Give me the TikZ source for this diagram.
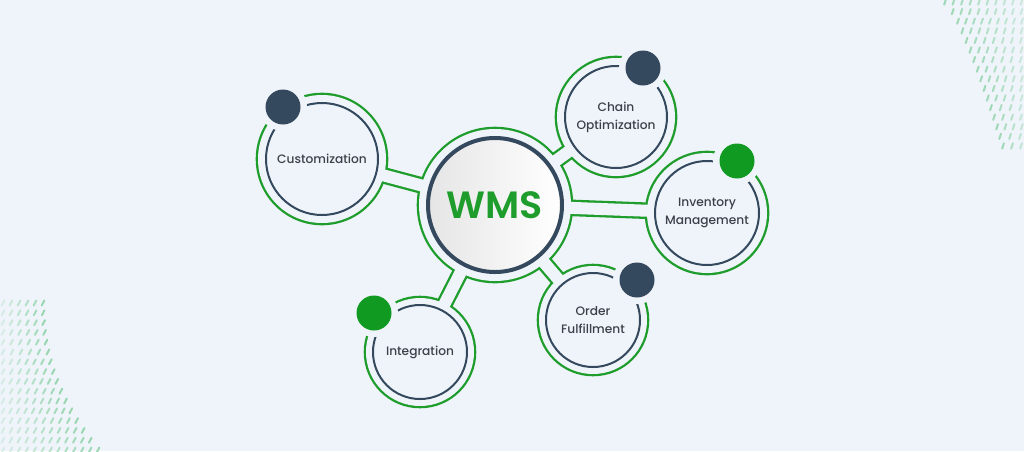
\documentclass[tikz,border=0pt]{standalone}
\usepackage{fontspec}
\setmainfont{Poppins}[UprightFont=* Medium, BoldFont=* SemiBold]
\usetikzlibrary{positioning}

\definecolor{pagebg}{RGB}{239,244,250}
\definecolor{navy}{RGB}{52,73,94}
\definecolor{ringgreen}{RGB}{31,157,44}
\definecolor{dotgreen}{RGB}{16,154,34}
\definecolor{textgray}{RGB}{60,64,72}
\definecolor{wavegreen}{RGB}{140,210,165}

\pgfdeclarelayer{paper}
\pgfdeclarelayer{ringback}
\pgfdeclarelayer{ringmask}
\pgfsetlayers{paper,ringback,ringmask,main}

\tikzset{
  topic/.style={circle, draw=navy, line width=2pt, fill=pagebg, text=textgray,
    align=center, font=\fontsize{12.2}{18}\selectfont, inner sep=0pt},
  hub/.style={circle, draw=navy, line width=4pt, inner sep=0pt, minimum size=134pt,
    left color=gray!20, right color=white, text=ringgreen,
    font=\bfseries\fontsize{38}{38}\selectfont},
  tubeout/.style={ringgreen, line width=16.6pt},
  tubein/.style={pagebg, line width=12pt},
  halo/.style={circle, fill=pagebg, inner sep=0pt, minimum size=48pt},
  knob/.style={circle, inner sep=0pt, minimum size=35pt},
  wavedash/.style={wavegreen, line width=2pt, line cap=round},
}

\begin{document}
\begin{tikzpicture}[x=1pt, y=-1pt]
\useasboundingbox (0,0) rectangle (1024,451);

% page and dotted waves in the corners
\begin{pgfonlayer}{paper}
\fill[pagebg] (0,0) rectangle (1024,451);
\clip (0,0) rectangle (1024,451);
\foreach \j in {0,...,15}{
  \pgfmathsetmacro\yy{303+9.8*\j}
  \pgfmathsetmacro\bb{40+55*(\j/15)^2.2}
  \pgfmathtruncatemacro\nn{\bb/7.5}
  \foreach \k in {0,...,\nn}{
    \pgfmathsetmacro\xx{3+\k*\bb/\nn}
    \pgfmathsetmacro\op{0.25+0.6*(\k/\nn)}
    \draw[wavedash, opacity=\op] (\xx,\yy) ++(-62:-2.8) -- ++(-62:5.6);
  }
}
\foreach \j in {0,...,15}{
  \pgfmathsetmacro\yy{2+9.6*\j}
  \pgfmathsetmacro\ll{945+58*(\j/15)^0.75}
  \pgfmathtruncatemacro\nn{(1030-\ll)/8}
  \foreach \k in {0,...,\nn}{
    \pgfmathsetmacro\xx{\ll+\k*(1030-\ll)/\nn}
    \pgfmathsetmacro\op{0.8-0.5*(\k/\nn)}
    \draw[wavedash, opacity=\op] (\xx,\yy) ++(-72:-2.8) -- ++(-72:5.6);
  }
}
\end{pgfonlayer}

% hub and topics
\node[hub] (wms) at (495,205) {WMS};
\node[topic, minimum size=112pt] (cust) at (322,159) {Customization};
\node[topic, minimum size=102pt] (chain) at (616,117) {Chain\\Optimization};
\node[topic, minimum size=104pt] (inv) at (707,213) {Inventory\\Management};
\node[topic, minimum size=94pt] (order) at (593,320) {Order\\Fulfillment};
\node[topic, minimum size=94pt] (integ) at (420,352) {Integration};

% green outline: rings and tubes
\begin{pgfonlayer}{ringback}
\fill[ringgreen] (wms.center) circle (78.3);
\fill[ringgreen] (cust.center) circle (66.3);
\fill[ringgreen] (chain.center) circle (61.3);
\fill[ringgreen] (inv.center) circle (62.3);
\fill[ringgreen] (order.center) circle (56.3);
\fill[ringgreen] (integ.center) circle (56.3);
\draw[tubeout] (wms) -- (cust);
\draw[tubeout] (wms) -- (chain);
\draw[tubeout] (wms) -- (inv);
\draw[tubeout] (wms) -- (order);
\draw[tubeout] (wms) -- (integ);
\end{pgfonlayer}
\begin{pgfonlayer}{ringmask}
\fill[pagebg] (wms.center) circle (76);
\fill[pagebg] (cust.center) circle (64);
\fill[pagebg] (chain.center) circle (59);
\fill[pagebg] (inv.center) circle (60);
\fill[pagebg] (order.center) circle (54);
\fill[pagebg] (integ.center) circle (54);
\draw[tubein] (wms) -- (cust);
\draw[tubein] (wms) -- (chain);
\draw[tubein] (wms) -- (inv);
\draw[tubein] (wms) -- (order);
\draw[tubein] (wms) -- (integ);
\end{pgfonlayer}

% dots on the rings
\node[halo] (custhalo) at (283,107) {};
\node[knob, fill=navy] (custdot) at (283,107) {};
\node[halo] (chainhalo) at (643,68) {};
\node[knob, fill=navy] (chaindot) at (643,68) {};
\node[halo] (invhalo) at (737,161) {};
\node[knob, fill=dotgreen] (invdot) at (737,161) {};
\node[halo] (orderhalo) at (637,280) {};
\node[knob, fill=navy] (orderdot) at (637,280) {};
\node[halo] (integhalo) at (374,313) {};
\node[knob, fill=dotgreen] (integdot) at (374,313) {};
\end{tikzpicture}
\end{document}
